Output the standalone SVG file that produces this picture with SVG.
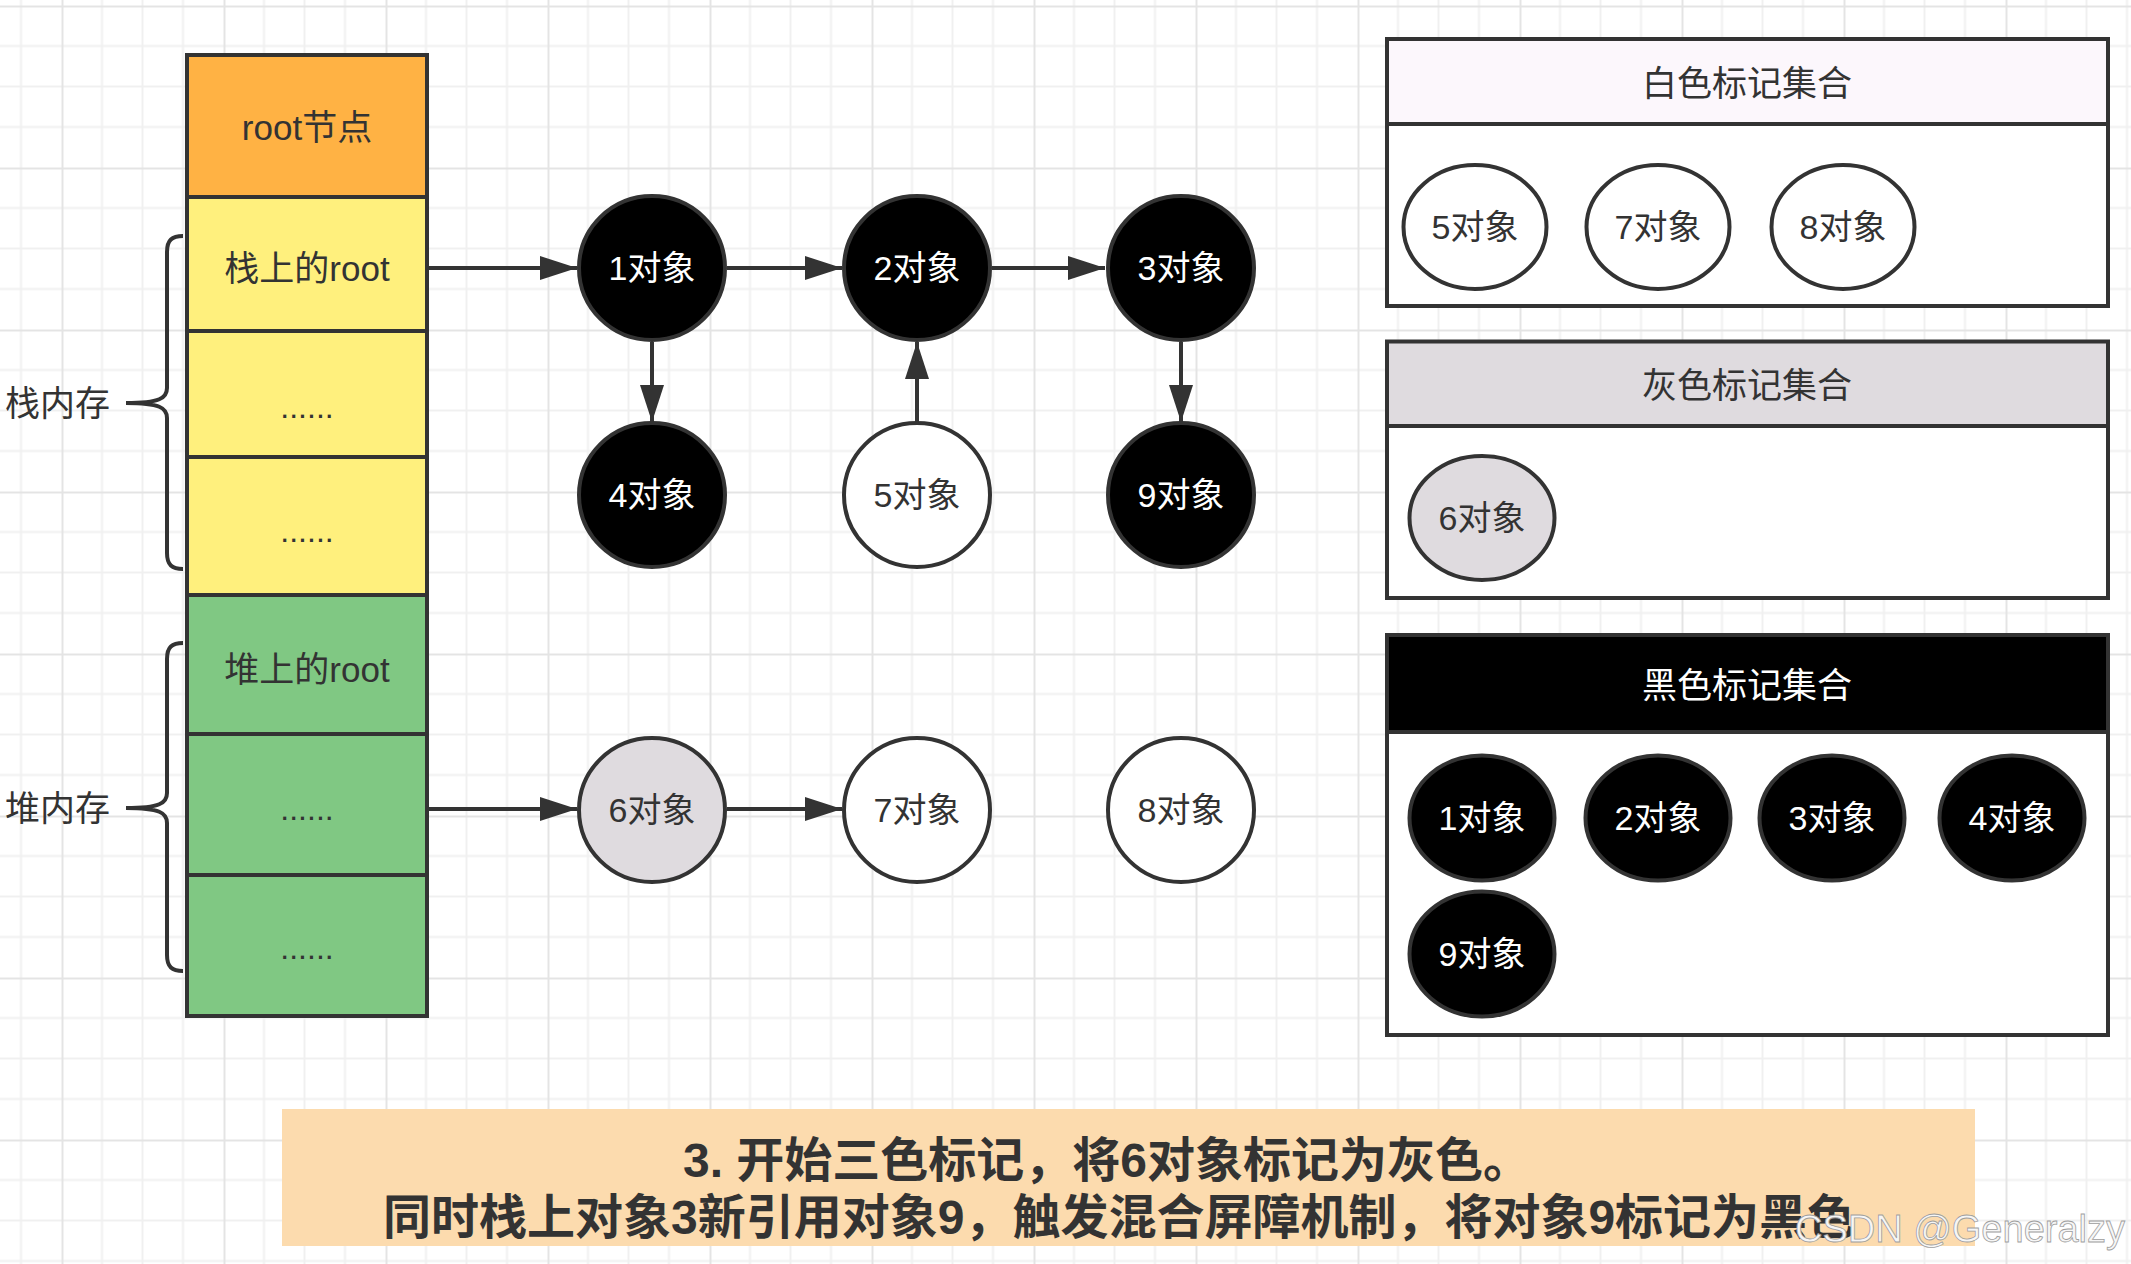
<svg xmlns="http://www.w3.org/2000/svg" width="2131" height="1264" viewBox="0 0 2131 1264">
<defs>
<style>
text{font-family:"Liberation Sans","Noto Sans CJK SC",sans-serif;fill:#333;}
.lbl{font-size:34px;text-anchor:middle;dominant-baseline:central;}
.slbl{font-size:35px;text-anchor:middle;dominant-baseline:central;}
.dots{font-size:32px;text-anchor:middle;}
.w{fill:#fff;}
.cell{stroke:#333;stroke-width:4;}
.box{fill:none;stroke:#333;stroke-width:4;}
.nb{fill:#000;stroke:#333;stroke-width:4;}
.nw{fill:#fff;stroke:#333;stroke-width:4;}
.ng{fill:#dfdbdf;stroke:#333;stroke-width:4;}
.brace{fill:none;stroke:#333;stroke-width:4;}
.edge{fill:none;stroke:#333;stroke-width:4;marker-end:url(#arr);}
.ttl{font-size:35px;text-anchor:middle;dominant-baseline:central;}
.cap{font-size:48px;font-weight:bold;dominant-baseline:central;}
</style>
<pattern id="grid" width="162" height="162" patternUnits="userSpaceOnUse" x="61.5" y="5.5">
<rect x="39.5" y="0" width="2" height="162" fill="#f0f0f0"/>
<rect x="80" y="0" width="2" height="162" fill="#f0f0f0"/>
<rect x="120.5" y="0" width="2" height="162" fill="#f0f0f0"/>
<rect x="0" y="39.5" width="162" height="2" fill="#f0f0f0"/>
<rect x="0" y="80" width="162" height="2" fill="#f0f0f0"/>
<rect x="0" y="120.5" width="162" height="2" fill="#f0f0f0"/>
<rect x="0" y="0" width="2" height="162" fill="#e4e4e4"/>
<rect x="0" y="0" width="162" height="2" fill="#e4e4e4"/>
</pattern>
<marker id="arr" markerUnits="userSpaceOnUse" markerWidth="37" markerHeight="24" refX="37" refY="12" orient="auto">
<path d="M0,0 L37,12 L0,24 Z" fill="#333"/>
</marker>
</defs>
<rect x="0" y="0" width="2131" height="1264" fill="#fff"/>
<rect x="0" y="0" width="2131" height="1264" fill="url(#grid)"/>

<g id="stack">
<g id="cell-root"><rect class="cell" x="187" y="55" width="240" height="142" fill="#ffb244"/><text class="slbl" x="307" y="127">root节点</text></g>
<g id="cell-stackroot"><rect class="cell" x="187" y="197" width="240" height="134" fill="#fff07d"/><text class="slbl" x="307" y="268">栈上的root</text></g>
<g id="cell-s2"><rect class="cell" x="187" y="331" width="240" height="126" fill="#fff07d"/><text class="dots" x="307" y="418">......</text></g>
<g id="cell-s3"><rect class="cell" x="187" y="457" width="240" height="138" fill="#fff07d"/><text class="dots" x="307" y="542">......</text></g>
<g id="cell-heaproot"><rect class="cell" x="187" y="595" width="240" height="139" fill="#80c883"/><text class="slbl" x="307" y="669">堆上的root</text></g>
<g id="cell-h2"><rect class="cell" x="187" y="734" width="240" height="141" fill="#80c883"/><text class="dots" x="307" y="820">......</text></g>
<g id="cell-h3"><rect class="cell" x="187" y="875" width="240" height="141" fill="#80c883"/><text class="dots" x="307" y="959">......</text></g>
</g>

<g id="brace-stack">
<path class="brace" d="M183,236 C172,236 167,240 167,252 L167,388 C167,398 160,403 126,403 C160,403 167,408 167,418 L167,553 C167,565 172,569 183,569"/>
<text class="ttl" x="5" y="403" style="text-anchor:start">栈内存</text>
</g>
<g id="brace-heap">
<path class="brace" d="M183,643 C172,643 167,647 167,659 L167,793 C167,803 160,808 126,808 C160,808 167,813 167,823 L167,955 C167,967 172,971 183,971"/>
<text class="ttl" x="5" y="808" style="text-anchor:start">堆内存</text>
</g>

<g id="connectors">
<path class="edge" d="M429,268 H577"/>
<path class="edge" d="M727,268 H842"/>
<path class="edge" d="M992,268 H1105"/>
<path class="edge" d="M652,342 V422"/>
<path class="edge" d="M917,422 V342"/>
<path class="edge" d="M1181,342 V422"/>
<path class="edge" d="M429,809 H577"/>
<path class="edge" d="M727,809 H842"/>
</g>

<g id="n1"><ellipse class="nb" cx="652" cy="268" rx="73" ry="72"/><text class="lbl w" x="652" y="268">1对象</text></g>
<g id="n2"><ellipse class="nb" cx="917" cy="268" rx="73" ry="72"/><text class="lbl w" x="917" y="268">2对象</text></g>
<g id="n3"><ellipse class="nb" cx="1181" cy="268" rx="73" ry="72"/><text class="lbl w" x="1181" y="268">3对象</text></g>
<g id="n4"><ellipse class="nb" cx="652" cy="495" rx="73" ry="72"/><text class="lbl w" x="652" y="495">4对象</text></g>
<g id="n5"><ellipse class="nw" cx="917" cy="495" rx="73" ry="72"/><text class="lbl" x="917" y="495">5对象</text></g>
<g id="n9"><ellipse class="nb" cx="1181" cy="495" rx="73" ry="72"/><text class="lbl w" x="1181" y="495">9对象</text></g>
<g id="n6"><ellipse class="ng" cx="652" cy="810" rx="73" ry="72"/><text class="lbl" x="652" y="810">6对象</text></g>
<g id="n7"><ellipse class="nw" cx="917" cy="810" rx="73" ry="72"/><text class="lbl" x="917" y="810">7对象</text></g>
<g id="n8"><ellipse class="nw" cx="1181" cy="810" rx="73" ry="72"/><text class="lbl" x="1181" y="810">8对象</text></g>

<g id="set-white">
<rect x="1387" y="39" width="721" height="267" fill="#fff"/>
<rect x="1387" y="39" width="721" height="85" fill="#fcf7fc"/>
<rect class="box" x="1387" y="39" width="721" height="267"/>
<line x1="1387" y1="124" x2="2108" y2="124" stroke="#333" stroke-width="4"/>
<text class="ttl" x="1747" y="83">白色标记集合</text>
<g id="w5"><ellipse class="nw" cx="1475" cy="227" rx="71.5" ry="62"/><text class="lbl" x="1475" y="227">5对象</text></g>
<g id="w7"><ellipse class="nw" cx="1658" cy="227" rx="71.5" ry="62"/><text class="lbl" x="1658" y="227">7对象</text></g>
<g id="w8"><ellipse class="nw" cx="1843" cy="227" rx="71.5" ry="62"/><text class="lbl" x="1843" y="227">8对象</text></g>
</g>

<g id="set-gray">
<rect x="1387" y="341.5" width="721" height="256.5" fill="#fff"/>
<rect x="1387" y="341.5" width="721" height="84.5" fill="#dfdbdf"/>
<rect class="box" x="1387" y="341.5" width="721" height="256.5"/>
<line x1="1387" y1="426" x2="2108" y2="426" stroke="#333" stroke-width="4"/>
<text class="ttl" x="1747" y="385.5">灰色标记集合</text>
<g id="g6"><ellipse class="ng" cx="1482" cy="518" rx="72.5" ry="62"/><text class="lbl" x="1482" y="518">6对象</text></g>
</g>

<g id="set-black">
<rect x="1387" y="635" width="721" height="400" fill="#fff"/>
<rect x="1387" y="635" width="721" height="97" fill="#000"/>
<rect class="box" x="1387" y="635" width="721" height="400"/>
<line x1="1387" y1="732" x2="2108" y2="732" stroke="#333" stroke-width="4"/>
<text class="ttl w" x="1747" y="685">黑色标记集合</text>
<g id="b1"><ellipse class="nb" cx="1482" cy="818" rx="72.5" ry="62.5"/><text class="lbl w" x="1482" y="818">1对象</text></g>
<g id="b2"><ellipse class="nb" cx="1658" cy="818" rx="72.5" ry="62.5"/><text class="lbl w" x="1658" y="818">2对象</text></g>
<g id="b3"><ellipse class="nb" cx="1832" cy="818" rx="72.5" ry="62.5"/><text class="lbl w" x="1832" y="818">3对象</text></g>
<g id="b4"><ellipse class="nb" cx="2012" cy="818" rx="72.5" ry="62.5"/><text class="lbl w" x="2012" y="818">4对象</text></g>
<g id="b9"><ellipse class="nb" cx="1482" cy="954" rx="72.5" ry="62.5"/><text class="lbl w" x="1482" y="954">9对象</text></g>
</g>

<g id="caption">
<rect x="282" y="1109" width="1693" height="137" fill="#fcdbae"/>
<text class="cap" x="683" y="1160">3. 开始三色标记，将6对象标记为灰色。</text>
<text class="cap" x="383" y="1217">同时栈上对象3新引用对象9，触发混合屏障机制，将对象9标记为黑色</text>
</g>

<g id="watermark">
<text x="1795" y="1242" style="font-size:38px;fill:#f6f6f6;stroke:#9e9e9e;stroke-width:0.8px;">CSDN @Generalzy</text>
</g>
</svg>
